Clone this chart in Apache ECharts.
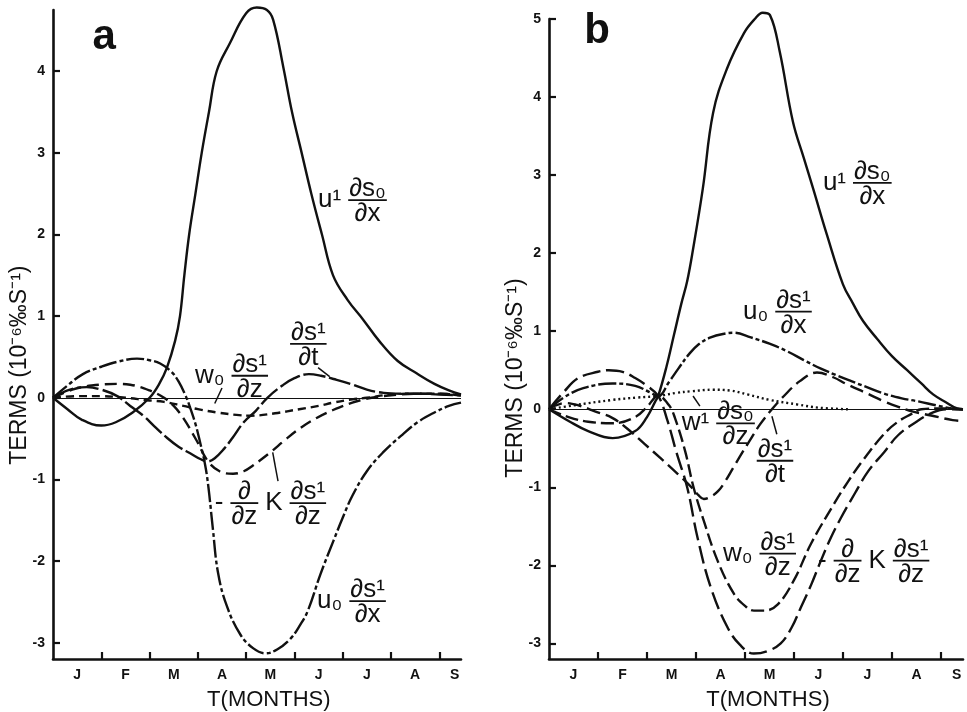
<!DOCTYPE html>
<html>
<head>
<meta charset="utf-8">
<script src="https://cdn.jsdelivr.net/npm/echarts/dist/echarts.min.js"></script>
<style>
  html, body { margin: 0; padding: 0; background: #fff; }
  #chart { width: 967px; height: 712px; }
</style>
</head>
<body>
<div id="chart"></div>
<script>
// ---- axis content ----
const MONTHS = ['J', 'F', 'M', 'A', 'M', 'J', 'J', 'A', 'S'];
const X_MAX = 8.45;                       // months from 1 January
const Y_TICKS_A = [-3, -2, -1, 0, 1, 2, 3, 4];
const Y_TICKS_B = [-3, -2, -1, 0, 1, 2, 3, 4, 5];

// ---- panel a: terms of the salt balance, [month, value] ----
const A_U1 = [[0,0],[0.3,-0.14],[0.6,-0.27],[1.0,-0.34],[1.3,-0.3],[1.65,-0.18],[2.0,0],[2.2,0.17],[2.36,0.37],[2.53,0.7],[2.63,1.0],[2.72,1.5],[2.82,2.0],[2.95,2.5],[3.08,3.0],[3.23,3.5],[3.39,4.0],[3.66,4.34],[4.0,4.71],[4.22,4.78],[4.43,4.75],[4.56,4.63],[4.77,4.05],[4.95,3.5],[5.15,3.0],[5.35,2.5],[5.57,2.0],[5.8,1.5],[6.1,1.2],[6.42,0.96],[6.75,0.7],[7.14,0.45],[7.53,0.3],[7.9,0.17],[8.2,0.09],[8.45,0.04]];
const A_U0 = [[0,0],[0.3,0.15],[0.62,0.29],[1.0,0.38],[1.33,0.44],[1.74,0.48],[2.0,0.46],[2.22,0.42],[2.45,0.32],[2.6,0.2],[2.75,0.02],[2.84,-0.12],[2.95,-0.32],[3.04,-0.53],[3.15,-0.82],[3.22,-1.1],[3.31,-1.6],[3.42,-2.15],[3.6,-2.55],[3.88,-2.9],[4.15,-3.07],[4.4,-3.13],[4.65,-3.08],[4.92,-2.95],[5.1,-2.8],[5.27,-2.62],[5.54,-2.16],[5.81,-1.75],[6.0,-1.47],[6.2,-1.2],[6.5,-0.9],[6.85,-0.66],[7.2,-0.47],[7.55,-0.3],[7.9,-0.18],[8.2,-0.1],[8.45,-0.06]];
const A_DSDT = [[0,0],[0.35,0.1],[0.7,0.13],[1.0,0.1],[1.33,0.02],[1.6,-0.1],[1.87,-0.22],[2.1,-0.35],[2.36,-0.49],[2.6,-0.6],[2.84,-0.68],[3.05,-0.75],[3.2,-0.78],[3.35,-0.74],[3.55,-0.62],[3.72,-0.49],[3.95,-0.3],[4.2,-0.16],[4.44,0],[4.75,0.15],[5.0,0.24],[5.3,0.29],[5.55,0.27],[5.81,0.23],[6.16,0.17],[6.5,0.1],[6.85,0.06],[7.2,0.05],[7.55,0.05],[8.0,0.04],[8.45,0.03]];
const A_KDIFF = [[0,0],[0.4,0.1],[0.8,0.15],[1.33,0.17],[1.6,0.16],[2.0,0.09],[2.3,0],[2.5,-0.1],[2.7,-0.25],[2.98,-0.53],[3.2,-0.77],[3.45,-0.9],[3.73,-0.93],[3.95,-0.9],[4.14,-0.83],[4.5,-0.67],[4.8,-0.52],[5.1,-0.38],[5.45,-0.25],[5.8,-0.15],[6.2,-0.06],[6.6,0],[7.0,0.03],[7.5,0.05],[8.0,0.05],[8.45,0.03]];
const A_W0 = [[0,0],[0.5,0.02],[1.0,0.02],[1.5,0],[1.95,-0.03],[2.3,-0.05],[2.7,-0.1],[3.0,-0.14],[3.39,-0.18],[3.8,-0.21],[4.1,-0.22],[4.6,-0.19],[5.1,-0.14],[5.5,-0.1],[5.8,-0.06],[6.2,-0.02],[6.5,0],[7.0,0.04],[7.5,0.05],[8.0,0.05],[8.45,0.03]];

// ---- panel b ----
const B_U1 = [[0,0],[0.4,-0.15],[0.8,-0.28],[1.3,-0.37],[1.76,-0.28],[2.0,-0.1],[2.17,0.1],[2.23,0.17],[2.4,0.55],[2.55,0.95],[2.7,1.35],[2.82,1.64],[2.94,2.05],[3.14,2.83],[3.35,3.8],[3.63,4.36],[3.98,4.82],[4.2,5.0],[4.36,5.08],[4.51,5.05],[4.71,4.58],[4.98,3.68],[5.2,3.22],[5.39,2.83],[5.67,2.24],[6.0,1.6],[6.2,1.36],[6.41,1.13],[6.7,0.9],[7.0,0.68],[7.31,0.5],[7.6,0.33],[7.84,0.19],[8.1,0.09],[8.33,0.01],[8.45,0]];
const B_U0 = [[0,0],[0.3,0.15],[0.7,0.27],[1.3,0.33],[1.76,0.3],[2.05,0.22],[2.23,0.17],[2.45,0.35],[2.64,0.52],[2.85,0.7],[3.05,0.83],[3.3,0.92],[3.6,0.97],[3.77,0.98],[4.12,0.92],[4.5,0.84],[4.87,0.74],[5.2,0.63],[5.55,0.52],[5.85,0.44],[6.17,0.36],[6.5,0.28],[6.84,0.2],[7.2,0.14],[7.54,0.1],[7.9,0.05],[8.22,0.01],[8.45,0]];
const B_DSDT = [[0,0],[0.33,0.08],[0.6,0.05],[0.95,-0.03],[1.29,-0.11],[1.6,-0.25],[1.96,-0.45],[2.3,-0.64],[2.63,-0.83],[2.91,-1.0],[3.05,-1.1],[3.16,-1.15],[3.3,-1.12],[3.45,-1.05],[3.6,-0.92],[3.76,-0.75],[3.95,-0.55],[4.1,-0.4],[4.3,-0.2],[4.55,0],[4.78,0.16],[5.12,0.36],[5.47,0.47],[5.8,0.41],[6.08,0.32],[6.5,0.2],[6.84,0.1],[7.13,0.03],[7.43,-0.03],[7.8,-0.08],[8.24,-0.14],[8.45,-0.15]];
const B_KDIFF = [[0,0],[0.3,0.22],[0.6,0.4],[1.0,0.48],[1.22,0.5],[1.5,0.48],[1.76,0.4],[2.0,0.3],[2.23,0.17],[2.42,-0.15],[2.6,-0.55],[2.82,-1.0],[3.03,-1.64],[3.3,-2.28],[3.64,-2.79],[3.9,-3.02],[4.18,-3.13],[4.45,-3.1],[4.73,-3.0],[4.95,-2.8],[5.14,-2.54],[5.35,-2.25],[5.55,-1.94],[5.75,-1.65],[5.96,-1.39],[6.25,-1.07],[6.52,-0.79],[6.84,-0.55],[7.13,-0.33],[7.5,-0.16],[7.84,-0.04],[8.1,0],[8.45,0]];
const B_W0 = [[0,0],[0.4,-0.1],[0.8,-0.16],[1.3,-0.18],[1.76,-0.1],[2.0,0.03],[2.23,0.17],[2.45,0.05],[2.57,-0.11],[2.78,-0.54],[2.95,-1.0],[3.16,-1.43],[3.44,-1.94],[3.77,-2.36],[4.0,-2.52],[4.18,-2.58],[4.4,-2.58],[4.67,-2.5],[5.0,-2.19],[5.35,-1.72],[5.82,-1.21],[6.1,-0.93],[6.4,-0.66],[6.82,-0.33],[7.1,-0.17],[7.4,-0.06],[7.6,0],[8.0,0.01],[8.45,0]];
const B_W1 = [[0,0],[0.5,0.05],[1.3,0.12],[1.8,0.15],[2.23,0.17],[2.6,0.21],[2.9,0.23],[3.34,0.25],[3.7,0.24],[4.05,0.19],[4.5,0.12],[5.08,0.06],[5.5,0.02],[6.1,0]];

// ---- styling ----
const INK = '#111';
const FONT = '"Liberation Sans", Arial, Helvetica, sans-serif';
const MATH_FONT = '26px ' + FONT;
const DASH = {
  solid: 'solid',
  dashDot: [18, 3, 4, 3],
  longDash: [22, 4],
  kDash: [12, 6],
  shortDash: [8, 5],
  dot: [2, 3]
};

const chart = echarts.init(document.getElementById('chart'), null, { renderer: 'canvas' });

function xAxisFor(gridIndex) {
  return {
    type: 'value', gridIndex, min: 0, max: X_MAX,
    axisLine: { show: true, onZero: false, lineStyle: { color: INK, width: 2.6 } },
    axisTick: {
      show: true, inside: true, length: 7,
      lineStyle: { color: INK, width: 2.2 },
      customValues: MONTHS.slice(1).map((_, i) => i + 1)
    },
    axisLabel: {
      customValues: MONTHS.map((_, i) => Math.min(i + 0.5, X_MAX - 0.13)),
      formatter: v => MONTHS[Math.min(MONTHS.length - 1, Math.round(v - 0.5))],
      color: INK, fontFamily: FONT, fontWeight: 'bold', fontSize: 14, margin: 9
    },
    splitLine: { show: false }
  };
}

function yAxisFor(gridIndex, min, max, ticks) {
  return {
    type: 'value', gridIndex, min, max,
    axisLine: { show: true, onZero: false, lineStyle: { color: INK, width: 2.6 } },
    axisTick: { show: true, inside: true, length: 7, lineStyle: { color: INK, width: 2.2 }, customValues: ticks },
    axisLabel: { customValues: ticks, color: INK, fontFamily: FONT, fontWeight: 'bold', fontSize: 14, margin: 8 },
    splitLine: { show: false }
  };
}

function curve(data, panel, dash, extra) {
  return Object.assign({
    type: 'line', data, xAxisIndex: panel, yAxisIndex: panel,
    showSymbol: false, symbol: 'none', smooth: 0.4,
    silent: true,
    lineStyle: { color: INK, width: 2.4, type: dash, cap: 'butt', join: 'round' }
  }, extra || {});
}

const zeroLine = {
  silent: true, symbol: ['none', 'none'], label: { show: false },
  lineStyle: { color: INK, width: 1, type: 'solid' },
  data: [{ yAxis: 0 }]
};

chart.setOption({
  animation: false,
  backgroundColor: '#fff',
  grid: [
    { left: 53, right: 506, top: 10, bottom: 53 },
    { left: 549, right: 4, top: 19, bottom: 53 }
  ],
  xAxis: [xAxisFor(0), xAxisFor(1)],
  yAxis: [yAxisFor(0, -3.2, 4.75, Y_TICKS_A), yAxisFor(1, -3.2, 5, Y_TICKS_B)],
  series: [
    // the u¹ peaks run a little past the top of their axes
    curve(A_U1, 0, DASH.solid, { markLine: zeroLine, clip: false }),
    curve(A_U0, 0, DASH.dashDot),
    curve(A_DSDT, 0, DASH.longDash),
    curve(A_KDIFF, 0, DASH.kDash),
    curve(A_W0, 0, DASH.shortDash),
    curve(B_U1, 1, DASH.solid, { markLine: zeroLine, clip: false }),
    curve(B_U0, 1, DASH.dashDot),
    curve(B_DSDT, 1, [14, 6]),
    curve(B_KDIFF, 1, [18, 6]),
    curve(B_W0, 1, [13, 5]),
    curve(B_W1, 1, DASH.dot)
  ]
});

// ---- term labels, written as products of fractions ----
const measureCtx = document.createElement('canvas').getContext('2d');
function textWidth(str, font) {
  measureCtx.font = font;
  return measureCtx.measureText(str).width;
}

// anchor: [month, value] of the left end of the label at its fraction bar
const LABELS = [
  { panel: 0, at: [5.49, 2.42], parts: ['u¹', ['∂s₀', '∂x']] },
  { panel: 0, at: [4.91, 0.66], parts: [['∂s¹', '∂t']] },
  { panel: 0, at: [2.94, 0.27], parts: ['w₀', ['∂s¹', '∂z']] },
  { panel: 0, at: [3.35, -1.29], parts: ['-', ['∂', '∂z'], 'K', ['∂s¹', '∂z']] },
  { panel: 0, at: [5.47, -2.49], parts: ['u₀', ['∂s¹', '∂x']] },
  { panel: 1, at: [5.59, 2.9], parts: ['u¹', ['∂s₀', '∂x']] },
  { panel: 1, at: [3.96, 1.25], parts: ['u₀', ['∂s¹', '∂x']] },
  { panel: 1, at: [2.71, -0.18], parts: ['w¹', ['∂s₀', '∂z']] },
  { panel: 1, at: [4.24, -0.66], parts: [['∂s¹', '∂t']] },
  { panel: 1, at: [3.55, -1.85], parts: ['w₀', ['∂s¹', '∂z']] },
  { panel: 1, at: [5.49, -1.94], parts: ['-', ['∂', '∂z'], 'K', ['∂s¹', '∂z']] }
];

// short leader strokes from a label to its curve, [month, value] pairs
const LEADERS = [
  { panel: 0, from: [5.49, 0.37], to: [5.73, 0.26] },
  { panel: 0, from: [3.5, 0.12], to: [3.35, -0.07] },
  { panel: 0, from: [4.66, -1.02], to: [4.55, -0.67] },
  { panel: 1, from: [3.08, 0.04], to: [2.94, 0.17] },
  { panel: 1, from: [4.65, -0.32], to: [4.55, -0.09] }
];

function px(panel, pt) {
  return chart.convertToPixel({ xAxisIndex: panel, yAxisIndex: panel }, pt);
}

function textEl(str, x, y, align, vAlign, font, extra) {
  return Object.assign({
    type: 'text', x, y, silent: true,
    style: { text: str, font: font || MATH_FONT, fill: INK, align, verticalAlign: vAlign }
  }, extra || {});
}

function buildLabel(spec) {
  const els = [];
  const [x0, yBar] = px(spec.panel, spec.at);
  let x = x0;
  const GAP = 7;
  spec.parts.forEach(part => {
    if (typeof part === 'string') {
      const w = textWidth(part, MATH_FONT);
      els.push(textEl(part, x, yBar, 'left', 'middle'));
      x += w + GAP;
    } else {
      const w = Math.max(textWidth(part[0], MATH_FONT), textWidth(part[1], MATH_FONT)) + 2;
      els.push(textEl(part[0], x + w / 2, yBar + 2, 'center', 'bottom'));
      els.push({ type: 'line', silent: true, shape: { x1: x, y1: yBar, x2: x + w, y2: yBar }, style: { stroke: INK, lineWidth: 1.8 } });
      els.push(textEl(part[1], x + w / 2, yBar + 1, 'center', 'top'));
      x += w + GAP;
    }
  });
  return els;
}

function annotations() {
  let els = [];
  LABELS.forEach(l => { els = els.concat(buildLabel(l)); });
  LEADERS.forEach(l => {
    const a = px(l.panel, l.from), b = px(l.panel, l.to);
    els.push({ type: 'line', silent: true, shape: { x1: a[0], y1: a[1], x2: b[0], y2: b[1] }, style: { stroke: INK, lineWidth: 1.5 } });
  });

  // panel letters
  const la = px(0, [1.06, 4.26]);
  const lb = px(1, [0.98, 4.68]);
  els.push(textEl('a', la[0], la[1] + 8, 'center', 'bottom', 'bold 42px ' + FONT));
  els.push(textEl('b', lb[0], lb[1] + 8, 'center', 'bottom', 'bold 42px ' + FONT));

  // axis titles
  [0, 1].forEach(p => {
    const origin = px(p, [0, 0.4]);
    els.push(textEl('TERMS (10⁻⁶‰S⁻¹)', origin[0] - 33, origin[1], 'center', 'middle', '23px ' + FONT, { rotation: Math.PI / 2 }));
    const bottom = px(p, [4.47, -3.2]);
    els.push(textEl('T(MONTHS)', bottom[0], bottom[1] + 41, 'center', 'middle', '22px ' + FONT));
  });
  return els;
}

chart.setOption({ graphic: { elements: annotations() } });
</script>
</body>
</html>
